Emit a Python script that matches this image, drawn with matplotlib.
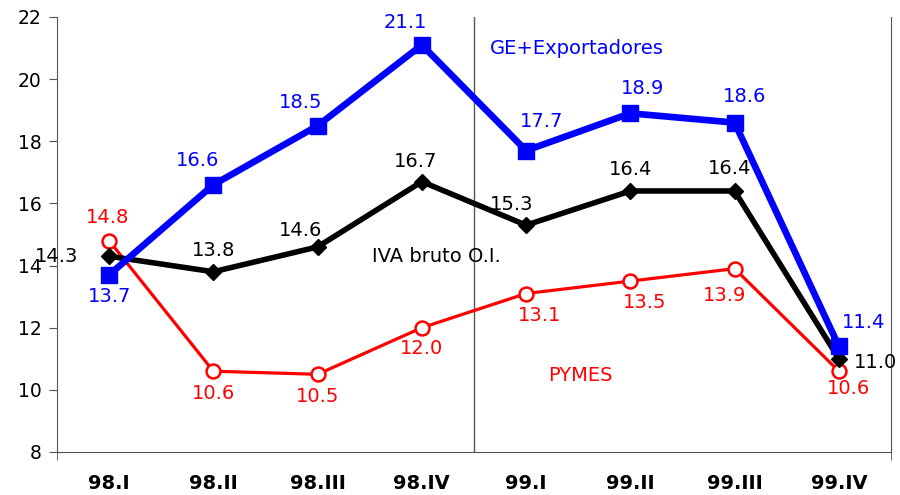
import matplotlib.pyplot as plt
from matplotlib.ticker import FixedLocator

# datos
quarters = ["98.I", "98.II", "98.III", "98.IV", "99.I", "99.II", "99.III", "99.IV"]
ge_export = [13.7, 16.6, 18.5, 21.1, 17.7, 18.9, 18.6, 11.4]
iva_bruto = [14.3, 13.8, 14.6, 16.7, 15.3, 16.4, 16.4, 11.0]
pymes = [14.8, 10.6, 10.5, 12.0, 13.1, 13.5, 13.9, 10.6]

# desplazamiento de etiquetas (pixeles)
ge_off = [(0, -22), (-16, 24), (-17, 23), (-17, 22), (15, 29), (12, 25), (10, 26), (25, 24)]
iva_off = [(-53, 0), (0, 21), (-17, 16), (-6, 20), (-14, 21), (0, 21), (-5, 22), (37, -4)]
py_off = [(-2, 23), (0, -22), (0, -22), (0, -21), (13, -22), (14, -21), (-10, -27), (10, -17)]

FS = 14

plt.rcParams['font.family'] = ['DejaVu Sans']
fig = plt.figure(figsize=(9, 4.95), dpi=100)
ax = fig.add_axes([0.0633, 0.0869, 0.9267, 0.8788])
x = list(range(len(quarters)))

ax.plot(x, pymes, color='red', lw=2.3, marker='o', ms=10, mfc='white', mec='red', mew=1.8, zorder=3)
ax.plot(x, iva_bruto, color='black', lw=4, marker='D', ms=8, zorder=4)
ax.plot(x, ge_export, color='blue', lw=4.8, marker='s', ms=11.5, zorder=5)

for vals, offs, col in [(ge_export, ge_off, 'blue'), (iva_bruto, iva_off, 'black'), (pymes, py_off, 'red')]:
    for i, (v, o) in enumerate(zip(vals, offs)):
        ax.annotate(f"{v:.1f}", (i, v), xytext=o, textcoords='offset pixels',
                    ha='center', va='center', color=col, fontsize=FS, zorder=6)

ax.text(3.65, 21.0, "GE+Exportadores", color='blue', fontsize=FS, va='center')
ax.text(2.52, 14.3, "IVA bruto O.I.", color='black', fontsize=FS, va='center')
ax.text(4.21, 10.45, "PYMES", color='red', fontsize=FS, va='center')

ax.axvline(3.5, color='#555555', lw=1)

ax.set_xlim(-0.5, 7.5)
ax.set_ylim(8, 22)
ax.set_yticks(range(8, 23, 2))
ax.set_xticks(x)
ax.set_xticklabels(quarters, fontweight='bold', fontsize=FS)
ax.tick_params(axis='x', length=0, pad=16)
ax.xaxis.set_minor_locator(FixedLocator([-0.5, 7.5]))
ax.tick_params(axis='x', which='minor', length=6, color='#555555')
ax.tick_params(axis='y', labelsize=13.5, length=6, pad=5, color='#555555')
ax.spines['top'].set_visible(False)
for s in ['left', 'bottom', 'right']:
    ax.spines[s].set_color('#555555')

fig.savefig("out.png", dpi=100)
